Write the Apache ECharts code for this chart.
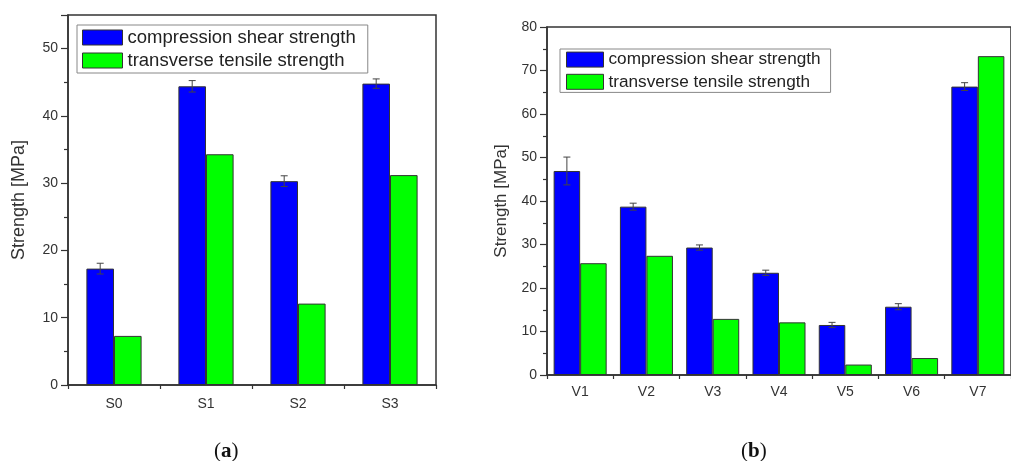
<!DOCTYPE html>
<html><head><meta charset="utf-8">
<script src="https://cdn.jsdelivr.net/npm/echarts@6/dist/echarts.min.js"></script>
<style>html,body{margin:0;padding:0;background:#fff}#c{width:1011px;height:461px}</style>
</head><body><div id="c"></div>
<script>
const seriesNames = ['compression shear strength', 'transverse tensile strength'];
const catsA = ['S0', 'S1', 'S2', 'S3'];
const shearA = [17.3, 44.4, 30.3, 44.8];
const shearErrA = [0.8, 0.85, 0.8, 0.7];
const tensileA = [7.3, 34.3, 12.1, 31.2];
const catsB = ['V1', 'V2', 'V3', 'V4', 'V5', 'V6', 'V7'];
const shearB = [46.9, 38.7, 29.3, 23.5, 11.5, 15.7, 66.3];
const shearErrB = [3.2, 0.8, 0.6, 0.6, 0.6, 0.7, 0.9];
const tensileB = [25.7, 27.4, 12.9, 12.1, 2.4, 3.9, 73.3];
const yTicksA = [0, 10, 20, 30, 40, 50];
const yTicksB = [0, 10, 20, 30, 40, 50, 60, 70, 80];

const AX = '#333';
const font = 'Arial, "Liberation Sans", Helvetica, sans-serif';
const BLUE = '#0000ff', GREEN = '#00ff00';

function errItem(frac) {
  return function (params, api) {
    const idx = api.value(0);
    const v = api.value(1), e = api.value(2);
    const band = api.size([1, 0])[0];
    const c = api.coord([idx, v]);
    const x = c[0] - band * frac;
    const top = api.coord([idx, v + e])[1];
    const bot = api.coord([idx, v - e])[1];
    const cap = 3.5;
    const st = { stroke: '#444', lineWidth: 1 };
    return { type: 'group', children: [
      { type: 'line', shape: { x1: x, y1: top, x2: x, y2: bot }, style: st },
      { type: 'line', shape: { x1: x - cap, y1: top, x2: x + cap, y2: top }, style: st },
      { type: 'line', shape: { x1: x - cap, y1: bot, x2: x + cap, y2: bot }, style: st }
    ]};
  };
}

function xAxes(cats, gi, margin) {
  return [
    { type: 'category', gridIndex: gi, data: cats, position: 'bottom',
      axisLine: { lineStyle: { color: AX, width: 1.5 } },
      axisTick: { alignWithLabel: true, length: 6, lineStyle: { color: AX, width: 1.2 } },
      axisLabel: { color: '#333', fontSize: 14, fontFamily: font, margin: margin },
      splitLine: { show: false } },
    { type: 'category', gridIndex: gi, data: cats, position: 'bottom',
      axisLine: { show: false },
      axisTick: { show: true, length: 4, lineStyle: { color: AX, width: 1.2 } },
      axisLabel: { show: false }, splitLine: { show: false } }
  ];
}

function yAxis(gi, max, nameGap, nameSize) {
  return { type: 'value', gridIndex: gi, min: 0, max: max, interval: 10,
    name: 'Strength [MPa]', nameLocation: 'middle', nameGap: nameGap,
    nameTextStyle: { color: '#333', fontSize: nameSize, fontFamily: font },
    axisLine: { show: true, lineStyle: { color: AX, width: 1.5 } },
    axisTick: { show: true, length: 7, lineStyle: { color: AX, width: 1.2 } },
    minorTick: { show: true, splitNumber: 2, length: 4, lineStyle: { color: AX, width: 1.2 } },
    axisLabel: { color: '#333', fontSize: 14, fontFamily: font, margin: 10, showMaxLabel: max % 10 === 0 },
    splitLine: { show: false }, minorSplitLine: { show: false } };
}

function legend(left, top, fs, gap, pad, iw) {
  return { orient: 'vertical', left: left, top: top, itemWidth: iw, itemHeight: 15, itemGap: gap,
    padding: pad, borderColor: '#888', borderWidth: 1, backgroundColor: '#fff',
    icon: 'rect', data: seriesNames,
    textStyle: { fontSize: fs, lineHeight: fs, color: '#222', fontFamily: font, padding: [0, 0, 0, 0] },
    itemStyle: { borderColor: '#333', borderWidth: 1 }, selectedMode: false };
}

const barStyle = (c) => ({ color: c, borderColor: '#333', borderWidth: 1 });
const serif = '"Liberation Serif", "DejaVu Serif", serif';

const option = {
  animation: false,
  grid: [
    { left: 68, top: 15, width: 368, height: 370, show: true, borderColor: AX, borderWidth: 1.5, backgroundColor: 'transparent' },
    { left: 547, top: 27, width: 467, height: 348, show: true, borderColor: AX, borderWidth: 1.5, backgroundColor: 'transparent' }
  ],
  xAxis: [].concat(xAxes(catsA, 0, 12), xAxes(catsB, 1, 10)),
  yAxis: [yAxis(0, 55, 40, 18), yAxis(1, 80, 37, 17)],
  legend: [legend(77, 25, 18.5, 4, [3, 12, 3, 5], 40), legend(560, 49, 17.2, 5, [2, 10, 2, 6], 37)],
  series: [
    { name: seriesNames[0], type: 'bar', xAxisIndex: 0, yAxisIndex: 0, data: shearA, barWidth: '30%', barGap: '0%', itemStyle: barStyle(BLUE) },
    { name: seriesNames[1], type: 'bar', xAxisIndex: 0, yAxisIndex: 0, data: tensileA, barWidth: '30%', barGap: '0%', itemStyle: barStyle(GREEN) },
    { type: 'custom', xAxisIndex: 0, yAxisIndex: 0, renderItem: errItem(0.15), z: 5,
      data: shearA.map((v, i) => [i, v, shearErrA[i]]), encode: { x: 0, y: 1 } },
    { name: seriesNames[0], type: 'bar', xAxisIndex: 2, yAxisIndex: 1, data: shearB, barWidth: '40%', barGap: '0%', itemStyle: barStyle(BLUE) },
    { name: seriesNames[1], type: 'bar', xAxisIndex: 2, yAxisIndex: 1, data: tensileB, barWidth: '40%', barGap: '0%', itemStyle: barStyle(GREEN) },
    { type: 'custom', xAxisIndex: 2, yAxisIndex: 1, renderItem: errItem(0.2), z: 5,
      data: shearB.map((v, i) => [i, v, shearErrB[i]]), encode: { x: 0, y: 1 } }
  ],
  graphic: [
    { type: 'text', left: 214, top: 441, style: { text: '({b|a})', fontSize: 21, fontFamily: serif, fill: '#111',
      rich: { b: { fontWeight: 'bold', fontSize: 21, fontFamily: serif } } } },
    { type: 'text', left: 741, top: 441, style: { text: '({b|b})', fontSize: 21, fontFamily: serif, fill: '#111',
      rich: { b: { fontWeight: 'bold', fontSize: 21, fontFamily: serif } } } }
  ]
};
const chart = echarts.init(document.getElementById('c'), null, { renderer: 'canvas' });
chart.setOption(option);
</script></body></html>
